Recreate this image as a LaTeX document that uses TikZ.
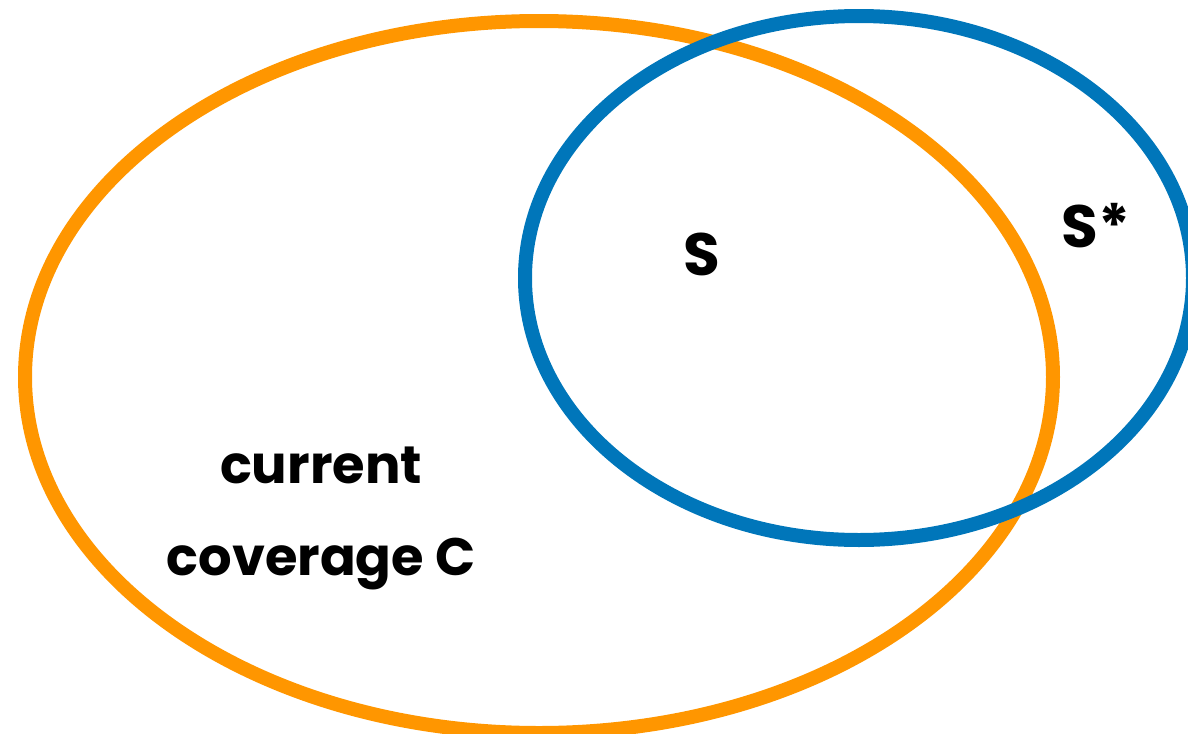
\documentclass[tikz,border=0pt]{standalone}
\usepackage{fontspec}
\setmainfont{Poppins}
\usepackage{tikz}
\usetikzlibrary{
    positioning
}
\definecolor{naranja}{RGB}{255,150,0}
\definecolor{azul}{RGB}{0,118,186}
\tikzset{
    conjunto/.style={
        line width=0.28cm
    },
    etiqueta/.style={
        anchor=base,
        inner sep=0pt,
        font=\fontsize{30}{36}\selectfont\bfseries
    },
    letra/.style={
        etiqueta,
        font=\fontsize{34}{40}\selectfont\bfseries
    }
}

\begin{document}
\begin{tikzpicture}[
    x=0.02cm,
    y=-0.02cm
]

    % Marco
    \useasboundingbox (0,0) rectangle (1188,734);

    % Conjuntos
    \draw[conjunto, naranja] (539,377) ellipse [x radius=514, y radius=356];
    \draw[conjunto, azul]    (859,278) ellipse [x radius=334, y radius=262];

    % Etiquetas
    \node[etiqueta] (cur) at (321,483) {current};
    \node[etiqueta] (cov) at (321,575) {coverage C};
    \node[letra]    (s)   at (702,275) {S};
    \node[letra]    (ss)  at (1096,247) {S*};

\end{tikzpicture}
\end{document}
